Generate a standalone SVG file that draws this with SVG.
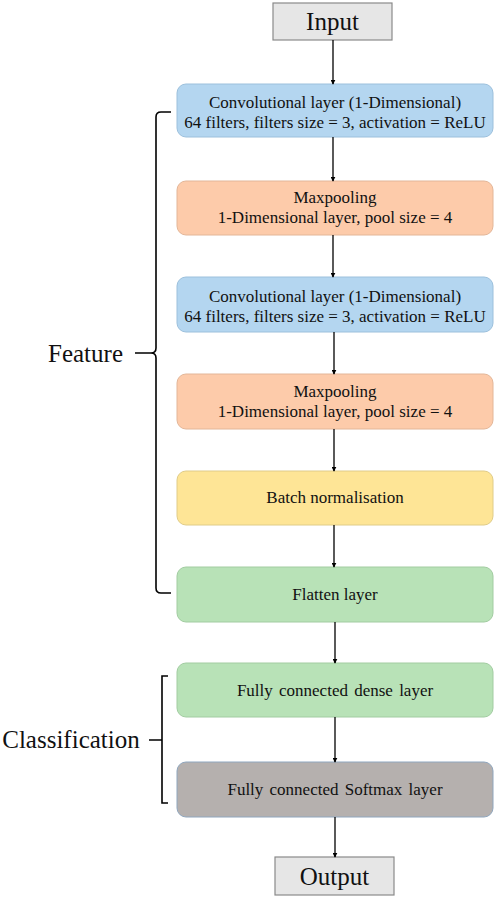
<svg xmlns="http://www.w3.org/2000/svg" width="498" height="897" viewBox="0 0 498 897">
<defs>
<marker id="ah" viewBox="0 0 8 8" refX="7" refY="4" markerWidth="5" markerHeight="5" orient="auto" markerUnits="userSpaceOnUse">
<path d="M0,0 L8,4 L0,8 z" fill="#000"/>
</marker>
<style>
.t{font-family:"Liberation Serif","Times New Roman",serif;fill:#111;text-anchor:middle}
.s{font-size:17px}
.big{font-size:25px}
.conv{fill:#B4D6F0;stroke:#9CC0DC;stroke-width:1}
.pool{fill:#FDCBAA;stroke:#E3B698;stroke-width:1}
.bn{fill:#FEE596;stroke:#E0CC88;stroke-width:1}
.fl{fill:#B8E2B7;stroke:#A2CCA1;stroke-width:1}
.sm{fill:#B5B0AE;stroke:#8FA6BE;stroke-width:1}
.io{fill:#E6E6E6;stroke:#8A8A8A;stroke-width:1.2}
.c{stroke:#000;stroke-width:1.3;fill:none;marker-end:url(#ah)}
.br{stroke:#000;stroke-width:1.6;fill:none}
</style>
</defs>
<rect width="498" height="897" fill="#fff"/>
<g id="input"><rect class="io" x="273" y="3" width="119" height="37"/><text class="t big" x="332.5" y="30">Input</text></g>
<g id="conv1"><rect class="conv" x="177" y="84" width="316" height="53" rx="9"/><text class="t s" x="335" y="108">Convolutional layer (1-Dimensional)</text><text class="t s" x="335" y="128">64 filters, filters size = 3, activation = ReLU</text></g>
<g id="pool1"><rect class="pool" x="177" y="181" width="316" height="54" rx="9"/><text class="t s" x="335" y="203">Maxpooling</text><text class="t s" x="335" y="223">1-Dimensional layer, pool size = 4</text></g>
<g id="conv2"><rect class="conv" x="177" y="277" width="316" height="55" rx="9"/><text class="t s" x="335" y="302">Convolutional layer (1-Dimensional)</text><text class="t s" x="335" y="322">64 filters, filters size = 3, activation = ReLU</text></g>
<g id="pool2"><rect class="pool" x="177" y="374" width="316" height="55" rx="9"/><text class="t s" x="335" y="397">Maxpooling</text><text class="t s" x="335" y="417">1-Dimensional layer, pool size = 4</text></g>
<g id="batchnorm"><rect class="bn" x="177" y="471" width="316" height="54" rx="9"/><text class="t s" x="335" y="503">Batch normalisation</text></g>
<g id="flatten"><rect class="fl" x="177" y="567" width="316" height="55" rx="9"/><text class="t s" x="335" y="600">Flatten layer</text></g>
<g id="dense"><rect class="fl" x="177" y="663" width="316" height="54" rx="9"/><text class="t s" x="335" y="696" word-spacing="2">Fully connected dense layer</text></g>
<g id="softmax"><rect class="sm" x="177" y="762" width="316" height="55" rx="9"/><text class="t s" x="335" y="795" word-spacing="2">Fully connected Softmax layer</text></g>
<g id="output"><rect class="io" x="275" y="857" width="119" height="38"/><text class="t big" x="334.5" y="885">Output</text></g>
<g id="feature"><path class="br" d="M171,112 H161 Q156,112 156,117 V348 Q156,353 151,353 H135 M151,353 Q156,353 156,358 V588 Q156,593 161,593 H171"/><text class="t big" x="85.5" y="362">Feature</text></g>
<g id="classification"><path class="br" d="M168,676 H162 V803 H168 M162,740 H149"/><text class="t big" x="71" y="748">Classification</text></g>
<g id="connectors">
<line class="c" x1="333" y1="40" x2="333" y2="84"/>
<line class="c" x1="333" y1="137" x2="333" y2="181"/>
<line class="c" x1="333" y1="235" x2="333" y2="277"/>
<line class="c" x1="334" y1="332" x2="334" y2="374"/>
<line class="c" x1="334" y1="429" x2="334" y2="471"/>
<line class="c" x1="334" y1="525" x2="334" y2="567"/>
<line class="c" x1="335" y1="622" x2="335" y2="663"/>
<line class="c" x1="335" y1="717" x2="335" y2="762"/>
<line class="c" x1="335" y1="817" x2="335" y2="857"/>
</g>
</svg>
